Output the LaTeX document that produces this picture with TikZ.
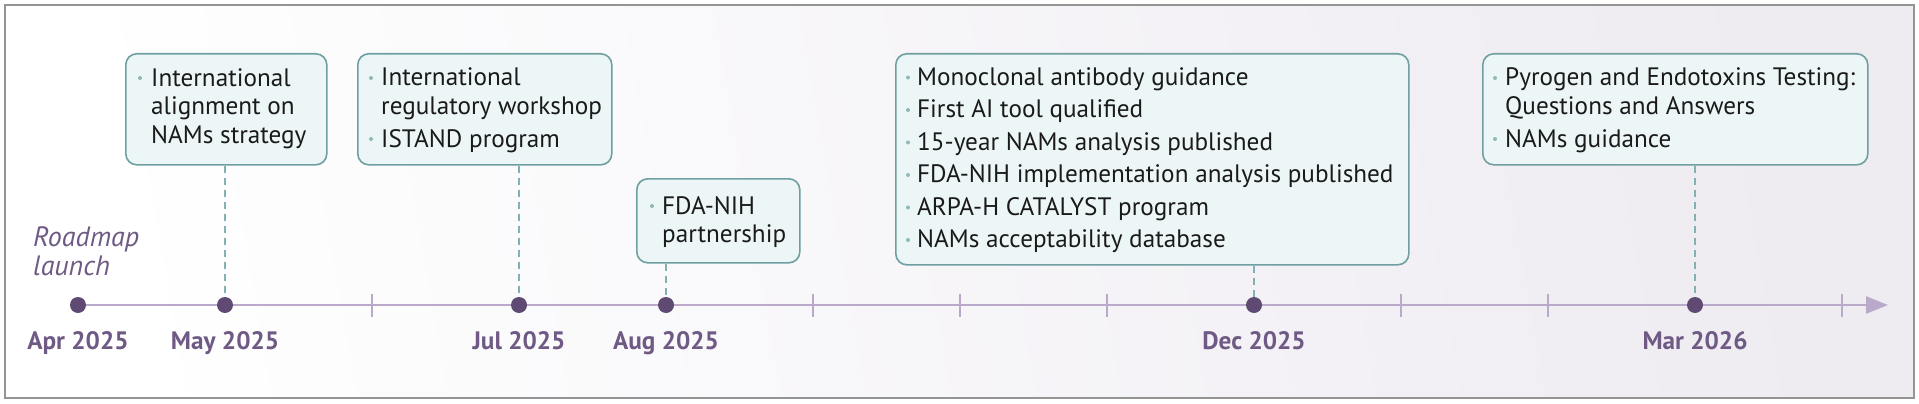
\documentclass[tikz,border=0pt]{standalone}
\usepackage{fontspec}
\setmainfont{PT Sans}
\usetikzlibrary{arrows.meta,calc}
\definecolor{framec}{HTML}{949494}
\definecolor{bgB}{HTML}{EEEBF1}
\definecolor{axisc}{HTML}{BBA9CC}
\definecolor{dotc}{HTML}{5E4A73}
\definecolor{datec}{HTML}{6E5A84}
\definecolor{boxfill}{HTML}{EDF6F6}
\definecolor{boxdraw}{HTML}{6F9FA1}
\definecolor{dashc}{HTML}{82B1B3}
\definecolor{bulletc}{HTML}{8DBABB}
\definecolor{txtc}{HTML}{1A1A1A}
\begin{document}
\begin{tikzpicture}[x=1pt,y=-1pt,
  evbox/.style={draw=boxdraw, line width=1.6pt, fill=boxfill, rounded corners=11pt, inner sep=0pt, anchor=north west},
  itemtxt/.style={anchor=base west, inner sep=0pt, font=\fontsize{25.2}{30}\selectfont, text=txtc},
  bul/.style={circle, fill=bulletc, inner sep=0pt, minimum size=4pt},
  evdot/.style={circle, fill=dotc, inner sep=0pt, minimum size=16pt},
  tickc/.style={inner sep=0pt, minimum size=0pt},
  datelab/.style={anchor=base, inner sep=0pt, font=\fontsize{25.2}{30}\selectfont\bfseries, text=datec},
  launchlab/.style={anchor=base west, inner sep=0pt, font=\fontsize{28}{30}\selectfont\itshape, text=datec},
  axisline/.style={draw=axisc, line width=2.6pt, -{Triangle[length=22pt,width=17pt]}},
  tickline/.style={draw=axisc, line width=2pt},
  dashline/.style={draw=dashc, line width=1.6pt, dash pattern=on 7pt off 5pt},
]
\useasboundingbox (0,0) rectangle (1919,404);
\shade[left color=white, right color=bgB, shading angle=100] (5,5) rectangle (1914,398);
\draw[framec, line width=2.5pt] (5,5) rectangle (1914,398);

% axis
\coordinate (aend) at (1888,305);
\node[tickc] (t0) at (78,305) {};
\draw[axisline] (t0.center) -- (aend);
\foreach \x/\n in {372/tjun,813/tsep,960/toct,1107/tnov,1401/tjan,1548/tfeb,1842/tapr}{
  \coordinate (\n a) at (\x,293.5);
  \coordinate (\n b) at (\x,316.5);
  \draw[tickline] (\n a) -- (\n b);
}

% dots
\node[evdot] (dapr) at (78,305) {};
\node[evdot] (dmay) at (225,305) {};
\node[evdot] (djul) at (519,305) {};
\node[evdot] (daug) at (666,305) {};
\node[evdot] (ddec) at (1254,305) {};
\node[evdot] (dmar) at (1695,305) {};

% date labels
\node[datelab] (lapr) at (78,349) {Apr 2025};
\node[datelab] (lmay) at (225,349) {May 2025};
\node[datelab] (ljul) at (519,349) {Jul 2025};
\node[datelab] (laug) at (666,349) {Aug 2025};
\node[datelab] (ldec) at (1254,349) {Dec 2025};
\node[datelab] (lmar) at (1695,349) {Mar 2026};

% roadmap launch
\node[launchlab] (rl1) at (33,246) {Roadmap};
\node[launchlab] (rl2) at (33,275) {launch};

% boxes
\node[evbox, minimum width=201pt, minimum height=111pt] (b1) at (125,53) {};
\node[evbox, minimum width=254pt, minimum height=111pt] (b2) at (357,53) {};
\node[evbox, minimum width=163pt, minimum height=84pt] (b3) at (636,178) {};
\node[evbox, minimum width=513pt, minimum height=211pt] (b4) at (895,53) {};
\node[evbox, minimum width=385pt, minimum height=111pt] (b5) at (1482,53) {};

% dashed connectors
\draw[dashline] (dmay |- b1.south) -- (dmay.north);
\draw[dashline] (djul |- b2.south) -- (djul.north);
\draw[dashline] (daug |- b3.south) -- (daug.north);
\draw[dashline] (ddec |- b4.south) -- (ddec.north);
\draw[dashline] (dmar |- b5.south) -- (dmar.north);

% box 1
\node[bul] (b1u1) at (140,78) {};
\node[itemtxt] (b1l1) at (151,86) {International};
\node[itemtxt] (b1l2) at (151,114.5) {alignment on};
\node[itemtxt] (b1l3) at (151,143) {NAMs strategy};

% box 2
\node[bul] (b2u1) at (371,78) {};
\node[itemtxt] (b2l1) at (381,85.5) {International};
\node[itemtxt] (b2l2) at (381,114) {regulatory workshop};
\node[bul] (b2u2) at (371,139) {};
\node[itemtxt] (b2l3) at (381,147) {ISTAND program};

% box 3
\node[bul] (b3u1) at (652,206) {};
\node[itemtxt] (b3l1) at (662,214) {FDA-NIH};
\node[itemtxt] (b3l2) at (662,242) {partnership};

% box 4
\foreach \y/\t [count=\i] in {85/{Monoclonal antibody guidance},117.5/{First AI tool qualified},150/{15-year NAMs analysis published},182.5/{FDA-NIH implementation analysis published},215/{ARPA-H CATALYST program},247.5/{NAMs acceptability database}}{
  \node[bul] (b4u\i) at (908,\y-7.5) {};
  \node[itemtxt] (b4l\i) at (917,\y) {\t};
}

% box 5
\node[bul] (b5u1) at (1495,78) {};
\node[itemtxt] (b5l1) at (1505,85.5) {Pyrogen and Endotoxins Testing:};
\node[itemtxt] (b5l2) at (1505,114) {Questions and Answers};
\node[bul] (b5u2) at (1495,139) {};
\node[itemtxt] (b5l3) at (1505,147) {NAMs guidance};
\end{tikzpicture}
\end{document}
